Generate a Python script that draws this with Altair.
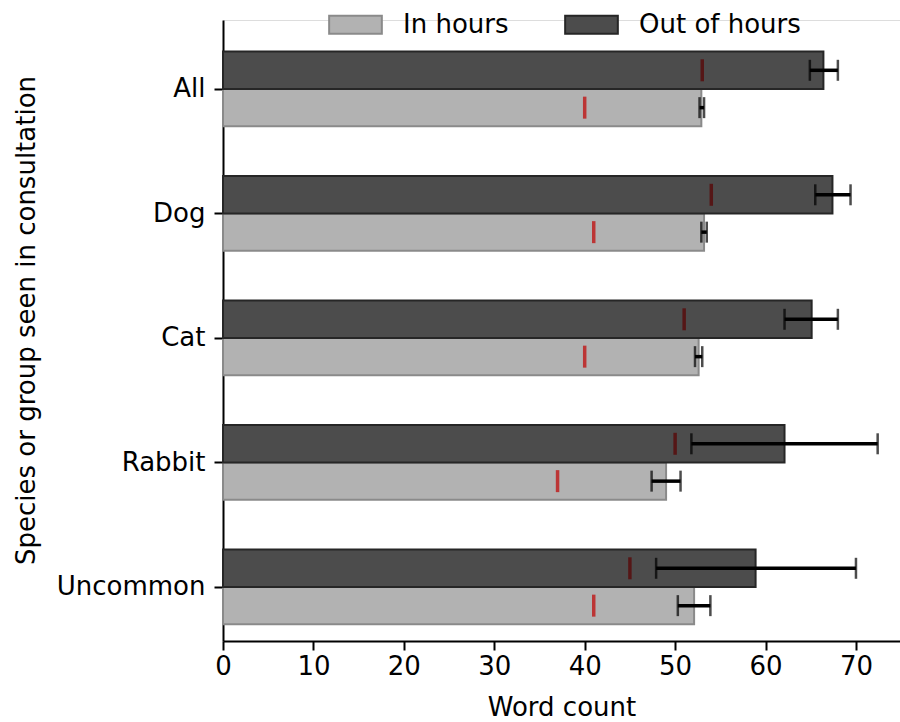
import altair as alt
import pandas as pd

categories = ["All", "Dog", "Cat", "Rabbit", "Uncommon"]
positions = [4, 3, 2, 1, 0]
groups = ["In hours", "Out of hours"]

in_mean = [52.9, 53.2, 52.6, 49.0, 52.1]
in_err_lo = [52.7, 52.9, 52.2, 47.4, 50.3]
in_err_hi = [53.2, 53.5, 53.0, 50.6, 53.9]
in_median = [40, 41, 40, 37, 41]

out_mean = [66.4, 67.4, 65.1, 62.1, 58.9]
out_err_lo = [64.9, 65.5, 62.1, 51.8, 47.9]
out_err_hi = [68.0, 69.4, 68.0, 72.4, 70.0]
out_median = [53, 54, 51, 50, 45]

rows = []
for i, c in enumerate(categories):
    p = positions[i]
    rows.append(dict(cat=c, group="In hours", y0=p - 0.3, y1=p, ymid=p - 0.15,
                     mean=in_mean[i], lo=in_err_lo[i], hi=in_err_hi[i], med=in_median[i]))
    rows.append(dict(cat=c, group="Out of hours", y0=p, y1=p + 0.3, ymid=p + 0.15,
                     mean=out_mean[i], lo=out_err_lo[i], hi=out_err_hi[i], med=out_median[i]))
df = pd.DataFrame(rows)

label_expr = " : ".join(
    [f"datum.value == {p} ? '{c}'" for p, c in zip(positions, categories)]
) + " : ''"

FONT = "DejaVu Sans"
FS = 26

xscale = alt.Scale(domain=[0, 74.87], nice=False, zero=True)
yscale = alt.Scale(domain=[-0.434, 4.554], nice=False, zero=False)

xaxis = alt.Axis(values=[0, 10, 20, 30, 40, 50, 60, 70], title="Word count",
                 grid=False, labelPadding=3, titlePadding=15, labelFlush=False)
yaxis = alt.Axis(values=positions, labelExpr=label_expr,
                 title="Species or group seen in consultation",
                 grid=False, labelPadding=9, titlePadding=17, titleY=300)

fill_scale = alt.Scale(domain=groups, range=["#b2b2b2", "#4c4c4c"])
stroke_scale = alt.Scale(domain=groups, range=["#8a8a8a", "#262626"])

legend = alt.Legend(orient="none", legendX=113, legendY=-15, direction="horizontal",
                    title=None, symbolType="M-1.45,-0.5H1.45V0.5H-1.45Z",
                    symbolSize=1320, symbolStrokeWidth=2, columnPadding=52,
                    labelOffset=28, symbolOpacity=1, labelLimit=400)

bars = alt.Chart(df).mark_rect(strokeWidth=2).encode(
    x=alt.X("mean:Q", scale=xscale, axis=xaxis),
    x2=alt.datum(0),
    y=alt.Y("y0:Q", scale=yscale, axis=yaxis),
    y2="y1:Q",
    fill=alt.Fill("group:N", scale=fill_scale, legend=legend),
    stroke=alt.Stroke("group:N", scale=stroke_scale, legend=legend),
)

err = alt.Chart(df).mark_rule(color="black", strokeWidth=3.5).encode(
    x=alt.X("lo:Q", scale=xscale, axis=xaxis), x2="hi:Q",
    y=alt.Y("ymid:Q", scale=yscale, axis=yaxis)
)
cap_lo = alt.Chart(df).mark_tick(color="black", thickness=2.5, size=21, orient="vertical").encode(
    x=alt.X("lo:Q", scale=xscale, axis=xaxis), y=alt.Y("ymid:Q", scale=yscale, axis=yaxis)
)
cap_hi = alt.Chart(df).mark_tick(color="black", thickness=2.5, size=21, orient="vertical").encode(
    x=alt.X("hi:Q", scale=xscale, axis=xaxis), y=alt.Y("ymid:Q", scale=yscale, axis=yaxis)
)
med = alt.Chart(df).mark_tick(thickness=3.5, size=22, orient="vertical").encode(
    x=alt.X("med:Q", scale=xscale, axis=xaxis), y=alt.Y("ymid:Q", scale=yscale, axis=yaxis),
    color=alt.Color("group:N", scale=alt.Scale(domain=groups, range=["#c00000", "#5a0000"]),
                    legend=None),
)

chart = alt.layer(bars, err, cap_lo, cap_hi, med).properties(
    width=677, height=621,
    autosize=alt.AutoSizeParams(type="none"),
    padding={"left": 223, "top": 20, "right": 0, "bottom": 81},
).configure_view(stroke=None).configure(background="white").configure_axis(
    labelFont=FONT, titleFont=FONT, labelFontSize=FS, titleFontSize=FS,
    labelColor="black", titleColor="black", domainColor="black", tickColor="black",
    domainWidth=2, tickWidth=2, tickSize=9, titleFontWeight="normal",
).configure_legend(
    labelFont=FONT, labelFontSize=FS, labelColor="black",
)

chart.save("out.html", embed_options={"renderer": "svg", "actions": False})
